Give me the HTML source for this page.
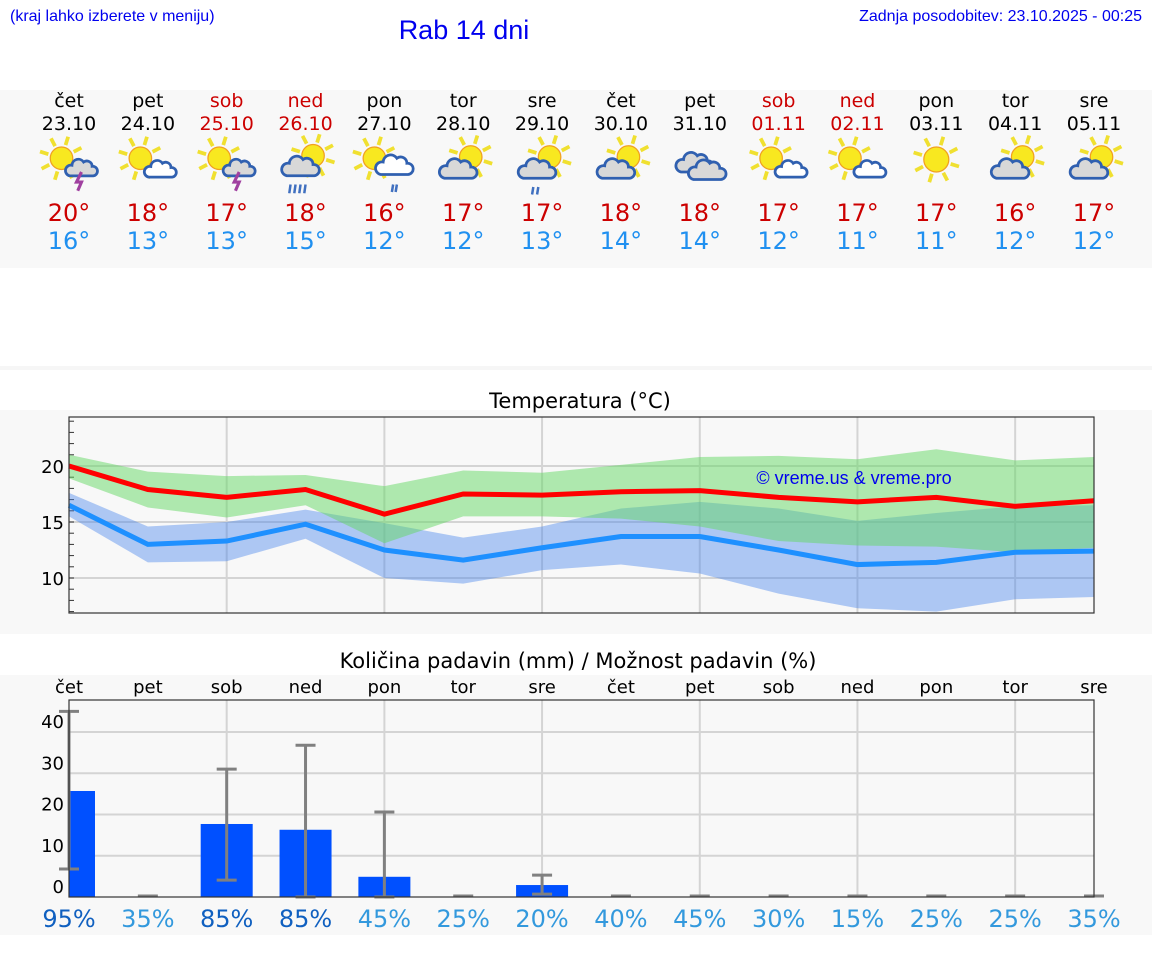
<!DOCTYPE html>
<html><head><meta charset="utf-8"><style>
body{margin:0;background:#fff;width:1152px;height:975px;overflow:hidden;font-family:"DejaVu Sans","Liberation Sans",sans-serif}
svg text{font-family:"DejaVu Sans","Liberation Sans",sans-serif}
</style></head><body>
<svg id="s" width="1152" height="975" viewBox="0 0 1152 975">
<rect x="0" y="90" width="1152" height="178" fill="#f8f8f8"/>
<rect x="0" y="366" width="1152" height="4" fill="#f6f6f6"/>
<rect x="0" y="410" width="1152" height="224" fill="#f8f8f8"/>
<rect x="0" y="675" width="1152" height="260" fill="#f8f8f8"/>
<text x="10" y="21" font-size="16" fill="#0000ee" style="font-family:'Liberation Sans',sans-serif">(kraj lahko izberete v meniju)</text>
<text x="464" y="39" font-size="27" fill="#0000ee" text-anchor="middle" style="font-family:'Liberation Sans',sans-serif">Rab 14 dni</text>
<text x="1142" y="21" font-size="16" fill="#0000ee" text-anchor="end" style="font-family:'Liberation Sans',sans-serif">Zadnja posodobitev: 23.10.2025 - 00:25</text>
<text x="580" y="408" font-size="21" text-anchor="middle" fill="#000">Temperatura (°C)</text>
<text x="578" y="668" font-size="21" text-anchor="middle" fill="#000">Količina padavin (mm) / Možnost padavin (%)</text>
<g id="g"></g>
</svg>
<script>
const days=["čet","pet","sob","ned","pon","tor","sre","čet","pet","sob","ned","pon","tor","sre"];
const dates=["23.10","24.10","25.10","26.10","27.10","28.10","29.10","30.10","31.10","01.11","02.11","03.11","04.11","05.11"];
const weekend=[0,0,1,1,0,0,0,0,0,1,1,0,0,0];
const icons=["sunstorm","suncloud","sunstorm","rain3","sunrain","cloudsun","cloudsunrain","cloudsun","clouds","suncloud","suncloud","sun","cloudsun","cloudsun"];
const hiText=[20,18,17,18,16,17,17,18,18,17,17,17,16,17];
const loText=[16,13,13,15,12,12,13,14,14,12,11,11,12,12];
const tMax=[20,17.9,17.2,17.9,15.7,17.5,17.4,17.7,17.8,17.2,16.8,17.2,16.4,16.9];
const tMin=[16.5,13,13.3,14.8,12.5,11.6,12.7,13.7,13.7,12.5,11.2,11.4,12.3,12.4];
const maxHi=[21,19.5,19.1,19.2,18.2,19.6,19.4,20.1,20.8,20.9,20.6,21.5,20.5,20.8];
const maxLo=[18.9,16.3,15.4,16.5,13.1,15.5,15.5,15.3,14.6,13.3,12.9,12.8,12.3,12.7];
const minHi=[17.6,14.6,15,16.1,14.9,13.6,14.6,16.2,16.8,16.2,15.1,15.8,16.4,16.5];
const minLo=[15.5,11.4,11.5,13.5,10,9.5,10.7,11.2,10.4,8.6,7.3,7,8.1,8.3];
const tTicks=[10,15,20];
const rain=[25.7,0,17.7,16.3,4.9,0,2.9,0,0,0,0,0,0,0];
const rainHi=[45,0,31,36.8,20.6,0,5.3,0,0,0,0,0,0,0];
const rainLo=[6.8,0,4.1,0,0,0,0.7,0,0,0,0,0,0,0];
const prob=[95,35,85,85,45,25,20,40,45,30,15,25,25,35];
const rTicks=[0,10,20,30,40];
const NS="http://www.w3.org/2000/svg",G=document.getElementById('g');
function el(t,a,p){const e=document.createElementNS(NS,t);for(const k in a)e.setAttribute(k,a[k]);(p||G).appendChild(e);return e;}
const X0=69,DX=(1094-69)/13;const x=i=>X0+DX*i;
const ty=t=>466+(20-t)*11.2;const ry=v=>897-v*4.125;
days.forEach((d,i)=>{
 const c=weekend[i]?"#cc0000":"#000";
 let e=el('text',{x:x(i),y:107,'font-size':19,'text-anchor':'middle',fill:c});e.textContent=d;
 
 
 e=el('text',{x:x(i),y:130,'font-size':19,'text-anchor':'middle',fill:c});e.textContent=dates[i];
 
 
 e=el('text',{x:x(i),y:221,'font-size':24,'text-anchor':'middle',fill:"#cc0000"});e.textContent=hiText[i]+"°";
 
 
 e=el('text',{x:x(i),y:249,'font-size':24,'text-anchor':'middle',fill:"#2090f0"});e.textContent=loText[i]+"°";
 
 
 const g=el('g',{transform:`translate(${x(i)},162) scale(1.25)`});
 
 
 drawIcon(g,icons[i]);
});
function sun(g,cx,cy,r){for(let k=0;k<8;k++){const a=k*Math.PI/4+0.3;el('line',{x1:cx+Math.cos(a)*(r+2),y1:cy+Math.sin(a)*(r+2),x2:cx+Math.cos(a)*(r+9),y2:cy+Math.sin(a)*(r+9),stroke:'#f0e030','stroke-width':3},g);}el('circle',{cx,cy,r,fill:'#f8e820',stroke:'#f0a020','stroke-width':1},g);}
function cloud(g,cx,cy,s,fill){el('path',{d:`M${cx-11*s},${cy+6*s} a${5*s},${5*s} 0 0 1 ${2*s},${-10*s} a${6*s},${6*s} 0 0 1 ${11*s},${-3*s} a${5*s},${5*s} 0 0 1 ${8*s},${4*s} a${4.5*s},${4.5*s} 0 0 1 ${1*s},${9*s} z`,fill:fill,stroke:'#3060b0','stroke-width':2.2},g);}
function drawIcon(g,t){
 if(t=="sun"){sun(g,0,-2,10);return;}
 if(t=="sunstorm"){sun(g,-6,-3,9);cloud(g,10,6,0.85,'#d8d8d8');el('path',{d:'M10,8 l-4,8 h4 l-3,7',stroke:'#a040a0','stroke-width':2.5,fill:'none'},g);return;}
 if(t=="suncloud"){sun(g,-6,-3,9);cloud(g,10,7,0.85,'#fff');return;}
 if(t=="sunrain"){sun(g,-8,-3,9);cloud(g,8,4,1,'#fff');el('path',{d:'M7,18 l-1,6 M10,18 l-1,6',stroke:'#4070c0','stroke-width':2},g);return;}
 if(t=="rain3"){sun(g,6,-5,9);cloud(g,-4,5,1,'#d8d8d8');el('path',{d:'M-12,18 l-1,7 M-8,18 l-1,7 M-4,18 l-1,7 M0,18 l-1,7',stroke:'#4070c0','stroke-width':2},g);return;}
 if(t=="cloudsun"){sun(g,6,-4,9);cloud(g,-4,7,1,'#d8d8d8');return;}
 if(t=="cloudsunrain"){sun(g,6,-4,9);cloud(g,-4,7,1,'#d8d8d8');el('path',{d:'M-7,20 l-1,6 M-3,20 l-1,6',stroke:'#4070c0','stroke-width':2},g);return;}
 if(t=="clouds"){cloud(g,-4,2,1,'#d8d8d8');cloud(g,6,8,1,'#d8d8d8');return;}
}
const tc=el('g',{});
el('rect',{x:69,y:417,width:1025,height:196,fill:'#f8f8f8'},tc);
for(let i=2;i<14;i+=2)el('line',{x1:x(i),y1:417,x2:x(i),y2:613,stroke:'#d4d4d4','stroke-width':2},tc);
tTicks.forEach(t=>{el('line',{x1:69,y1:ty(t),x2:1094,y2:ty(t),stroke:'#d4d4d4','stroke-width':2},tc);
 const e=el('text',{x:64,y:ty(t)+7,'font-size':18,'text-anchor':'end',fill:'#000'},tc);e.textContent=t;
 
 });
for(let t=7;t<=24;t++)el('line',{x1:69,y1:ty(t),x2:74,y2:ty(t),stroke:'#333'},tc);
function band(hi,lo,fill,name){let d='M'+hi.map((v,i)=>x(i)+','+ty(v)).join(' L')+' L'+lo.map((v,i)=>x(i)+','+ty(v)).reverse().join(' L')+'Z';const p=el('path',{d,fill},tc);}
band(minHi,minLo,'rgba(70,130,235,0.42)','min-temp-range');
band(maxHi,maxLo,'rgba(100,215,100,0.5)','max-temp-range');
function line(v,c,name){const p=el('polyline',{points:v.map((t,i)=>x(i)+','+ty(t)).join(' '),fill:'none',stroke:c,'stroke-width':5},tc);}
line(tMax,'#ff0000','max-temp-line');line(tMin,'#1e90ff','min-temp-line');
el('rect',{x:69,y:417,width:1025,height:196,fill:'none',stroke:'#333','stroke-width':1.2},tc);
let w=el('text',{x:854,y:484,'font-size':18,'text-anchor':'middle',fill:'#0000ee',style:"font-family:'Liberation Sans',sans-serif"},tc);w.textContent='© vreme.us & vreme.pro';


const pc=el('g',{});
el('rect',{x:69,y:700,width:1025,height:197,fill:'#f8f8f8'},pc);
for(let i=2;i<14;i+=2)el('line',{x1:x(i),y1:700,x2:x(i),y2:897,stroke:'#d4d4d4','stroke-width':2},pc);
rTicks.forEach(v=>{if(v>0)el('line',{x1:69,y1:ry(v),x2:1094,y2:ry(v),stroke:'#d4d4d4','stroke-width':2},pc);
 const e=el('text',{x:64,y:ry(v)-4,'font-size':18,'text-anchor':'end',fill:'#000'},pc);e.textContent=v;
 
 });
el('clipPath',{id:'cp'},pc);el('rect',{x:69,y:700,width:1025,height:197},document.getElementById('cp'));
const bars=el('g',{'clip-path':'url(#cp)'},pc);
days.forEach((d,i)=>{
 let e=el('text',{x:x(i),y:693,'font-size':18,'text-anchor':'middle',fill:'#000'},pc);e.textContent=d;
 
 
 if(rain[i]>0){const b=el('rect',{x:x(i)-26,y:ry(rain[i]),width:52,height:rain[i]*4.125,fill:'#0050ff'},bars);
  
  }
 const eg=el('g',{stroke:'#808080','stroke-width':3},pc);
 
 
 if(rainHi[i]>0){el('line',{x1:x(i),y1:ry(rainHi[i]),x2:x(i),y2:ry(rainLo[i])},eg);
  el('line',{x1:x(i)-10,y1:ry(rainHi[i]),x2:x(i)+10,y2:ry(rainHi[i])},eg);
  el('line',{x1:x(i)-10,y1:ry(rainLo[i]),x2:x(i)+10,y2:ry(rainLo[i])},eg);}
 else el('line',{x1:x(i)-10,y1:896,x2:x(i)+10,y2:896},eg);
 e=el('text',{x:x(i),y:927,'font-size':24,'text-anchor':'middle',fill:prob[i]>=80?'#1060c0':'#3399dd'},pc);e.textContent=prob[i]+'%';
 
 
});
el('rect',{x:69,y:700,width:1025,height:197,fill:'none',stroke:'#333','stroke-width':1.2},pc);
</script>
</body></html>
